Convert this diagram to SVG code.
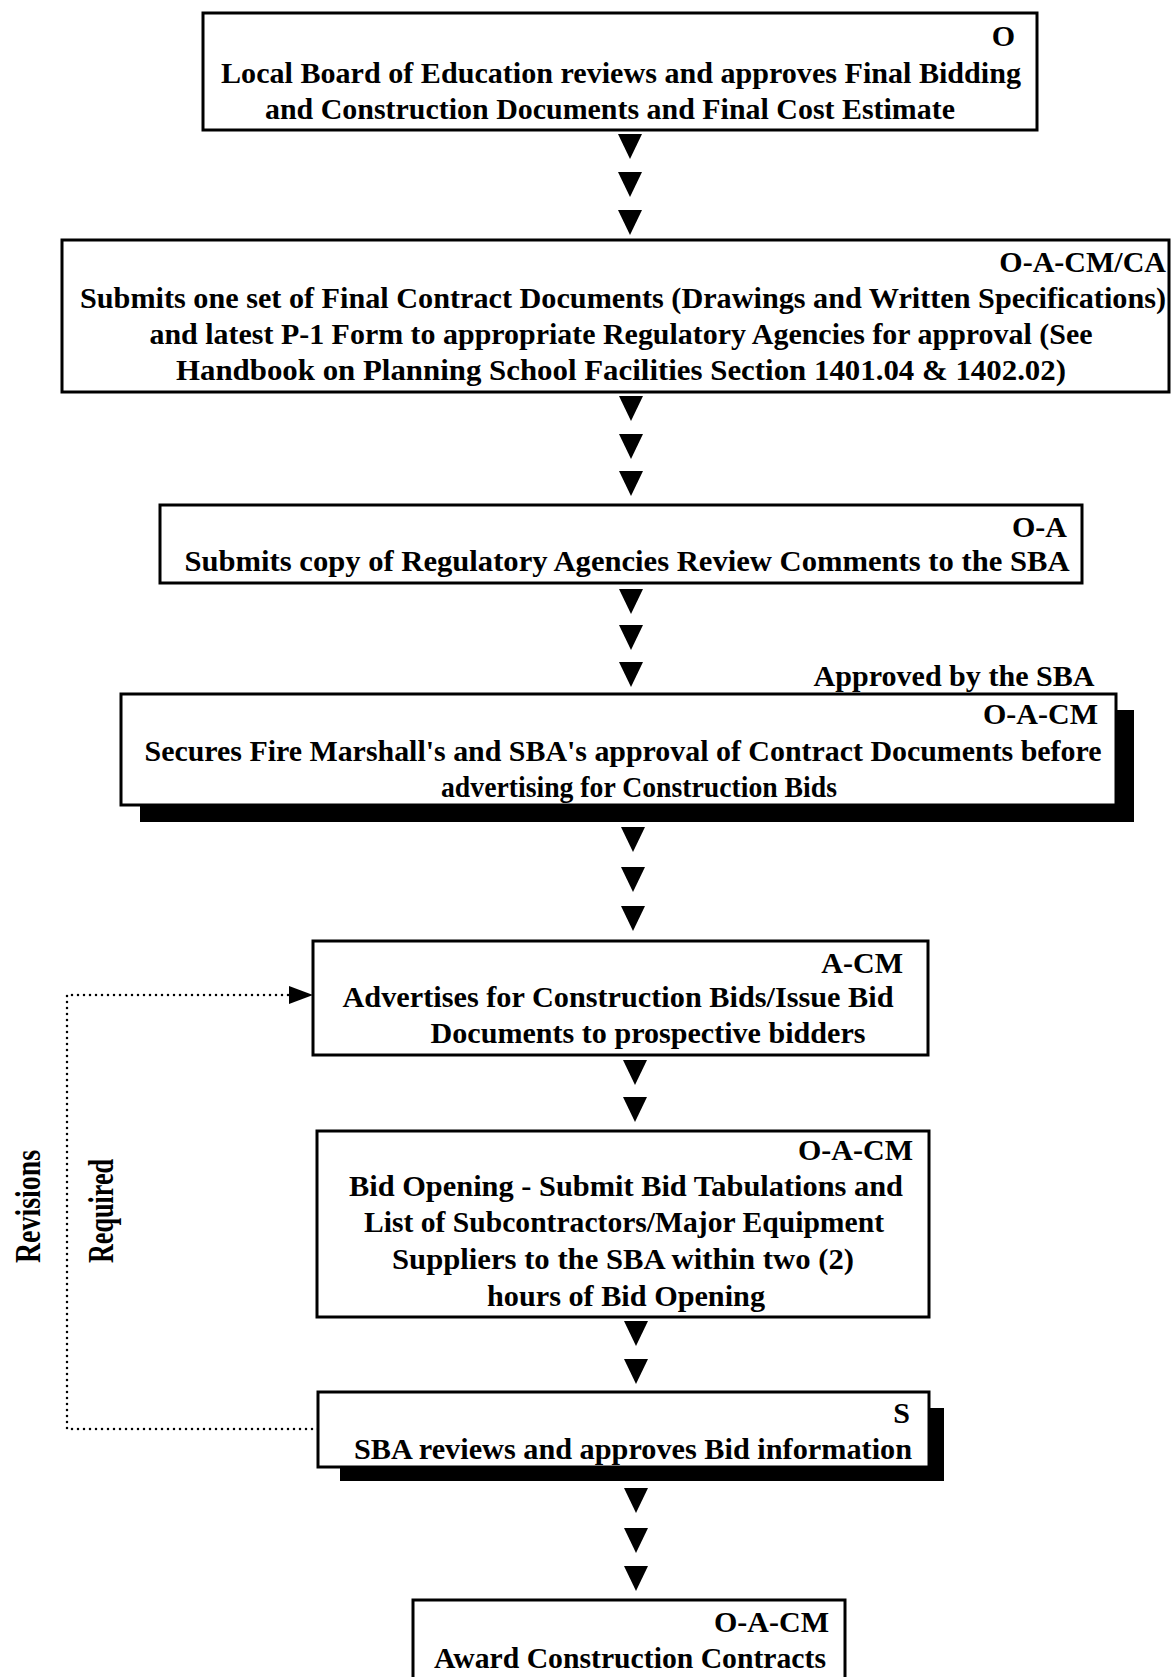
<svg xmlns="http://www.w3.org/2000/svg" xmlns:xlink="http://www.w3.org/1999/xlink" width="1171" height="1677" viewBox="0 0 1171 1677">
  <style>
    .box { fill: #fff; stroke: #000; stroke-width: 3; }
    .shadow { fill: #000; }
    .t { font-family: "Liberation Serif", "Times New Roman", serif; font-size: 30px; font-weight: bold; fill: #000; }
    .side { font-family: "Liberation Serif", "Times New Roman", serif; font-size: 36px; font-weight: bold; fill: #000; }
    .c { text-anchor: middle; }
    .r { text-anchor: end; }
    .dots { fill: none; stroke: #000; stroke-width: 2.5; stroke-linecap: round; stroke-dasharray: 0 6; }
  </style>
  <defs>
    <!-- solid downward triangle used between steps -->
    <path id="down" d="M-12,0 L12,0 L0,25 Z" fill="#000"/>
  </defs>
  <rect width="1171" height="1677" fill="#fff"/>

  <!-- connectors -->
  <g id="connectors">
    <use xlink:href="#down" x="630" y="134"/>
    <use xlink:href="#down" x="630" y="172"/>
    <use xlink:href="#down" x="630" y="210"/>

    <use xlink:href="#down" x="631" y="396"/>
    <use xlink:href="#down" x="631" y="434"/>
    <use xlink:href="#down" x="631" y="471"/>

    <use xlink:href="#down" x="631" y="589"/>
    <use xlink:href="#down" x="631" y="625"/>
    <use xlink:href="#down" x="631" y="662"/>

    <use xlink:href="#down" x="633" y="827"/>
    <use xlink:href="#down" x="633" y="867"/>
    <use xlink:href="#down" x="633" y="906"/>

    <use xlink:href="#down" x="635" y="1060"/>
    <use xlink:href="#down" x="635" y="1097"/>

    <use xlink:href="#down" x="636" y="1321"/>
    <use xlink:href="#down" x="636" y="1359"/>

    <use xlink:href="#down" x="636" y="1488"/>
    <use xlink:href="#down" x="636" y="1528"/>
    <use xlink:href="#down" x="636" y="1566"/>

    <!-- revision loop back from SBA review to advertising -->
    <path class="dots" d="M318,1429 L67,1429 L67,995 L289,995"/>
    <path d="M289,986 L313,995 L289,1004 Z" fill="#000"/>
  </g>

  <g id="n-board">
    <rect class="box" x="203" y="13" width="834" height="117"/>
    <text class="t r" x="1015" y="46">O</text>
    <text class="t c" x="621" y="83" textLength="800" lengthAdjust="spacingAndGlyphs">Local Board of Education reviews and approves Final Bidding</text>
    <text class="t c" x="610" y="119" textLength="690" lengthAdjust="spacingAndGlyphs">and Construction Documents and Final Cost Estimate</text>
  </g>

  <g id="n-submit">
    <rect class="box" x="62" y="240" width="1107" height="152"/>
    <text class="t r" x="1166" y="272">O-A-CM/CA</text>
    <text class="t c" x="623" y="308" textLength="1086" lengthAdjust="spacingAndGlyphs">Submits one set of Final Contract Documents (Drawings and Written Specifications)</text>
    <text class="t c" x="621" y="344" textLength="943" lengthAdjust="spacingAndGlyphs">and latest P-1 Form to appropriate Regulatory Agencies for approval (See</text>
    <text class="t c" x="621" y="380" textLength="890" lengthAdjust="spacingAndGlyphs">Handbook on Planning School Facilities Section 1401.04 &amp; 1402.02)</text>
  </g>

  <g id="n-comments">
    <rect class="box" x="160" y="505" width="922" height="78"/>
    <text class="t r" x="1067" y="537">O-A</text>
    <text class="t c" x="627" y="571" textLength="885" lengthAdjust="spacingAndGlyphs">Submits copy of Regulatory Agencies Review Comments to the SBA</text>
  </g>

  <g id="n-approval">
    <text class="t c" x="954" y="686" textLength="281" lengthAdjust="spacingAndGlyphs">Approved by the SBA</text>
    <rect class="shadow" x="140" y="710" width="994" height="112"/>
    <rect class="box" x="121" y="694" width="995" height="111"/>
    <text class="t r" x="1098" y="724">O-A-CM</text>
    <text class="t c" x="623" y="761" textLength="957" lengthAdjust="spacingAndGlyphs">Secures Fire Marshall's and SBA's approval of Contract Documents before</text>
    <text class="t c" x="639" y="797" textLength="396" lengthAdjust="spacingAndGlyphs">advertising for Construction Bids</text>
  </g>

  <g id="n-advertise">
    <rect class="box" x="313" y="941" width="615" height="114"/>
    <text class="t r" x="903" y="973">A-CM</text>
    <text class="t c" x="618" y="1007" textLength="551" lengthAdjust="spacingAndGlyphs">Advertises for Construction Bids/Issue Bid</text>
    <text class="t c" x="648" y="1043" textLength="435" lengthAdjust="spacingAndGlyphs">Documents to prospective bidders</text>
  </g>

  <g id="n-opening">
    <rect class="box" x="317" y="1131" width="612" height="186"/>
    <text class="t r" x="913" y="1160">O-A-CM</text>
    <text class="t c" x="626" y="1196" textLength="554" lengthAdjust="spacingAndGlyphs">Bid Opening - Submit Bid Tabulations and</text>
    <text class="t c" x="624" y="1232" textLength="520" lengthAdjust="spacingAndGlyphs">List of Subcontractors/Major Equipment</text>
    <text class="t c" x="623" y="1269" textLength="462" lengthAdjust="spacingAndGlyphs">Suppliers to the SBA within two (2)</text>
    <text class="t c" x="626" y="1306" textLength="278" lengthAdjust="spacingAndGlyphs">hours of Bid Opening</text>
  </g>

  <g id="n-review">
    <rect class="shadow" x="340" y="1408" width="604" height="73"/>
    <rect class="box" x="318" y="1392" width="611" height="75"/>
    <text class="t r" x="910" y="1423">S</text>
    <text class="t c" x="633" y="1459" textLength="558" lengthAdjust="spacingAndGlyphs">SBA reviews and approves Bid information</text>
  </g>

  <g id="n-award">
    <rect class="box" x="413" y="1600" width="432" height="90"/>
    <text class="t r" x="829" y="1632">O-A-CM</text>
    <text class="t c" x="630" y="1668" textLength="392" lengthAdjust="spacingAndGlyphs">Award Construction Contracts</text>
  </g>

  <g id="loop-label">
    <text class="side" transform="translate(40,1263) rotate(-90)" textLength="113" lengthAdjust="spacingAndGlyphs">Revisions</text>
    <text class="side" transform="translate(113,1263) rotate(-90)" textLength="104" lengthAdjust="spacingAndGlyphs">Required</text>
  </g>
</svg>
